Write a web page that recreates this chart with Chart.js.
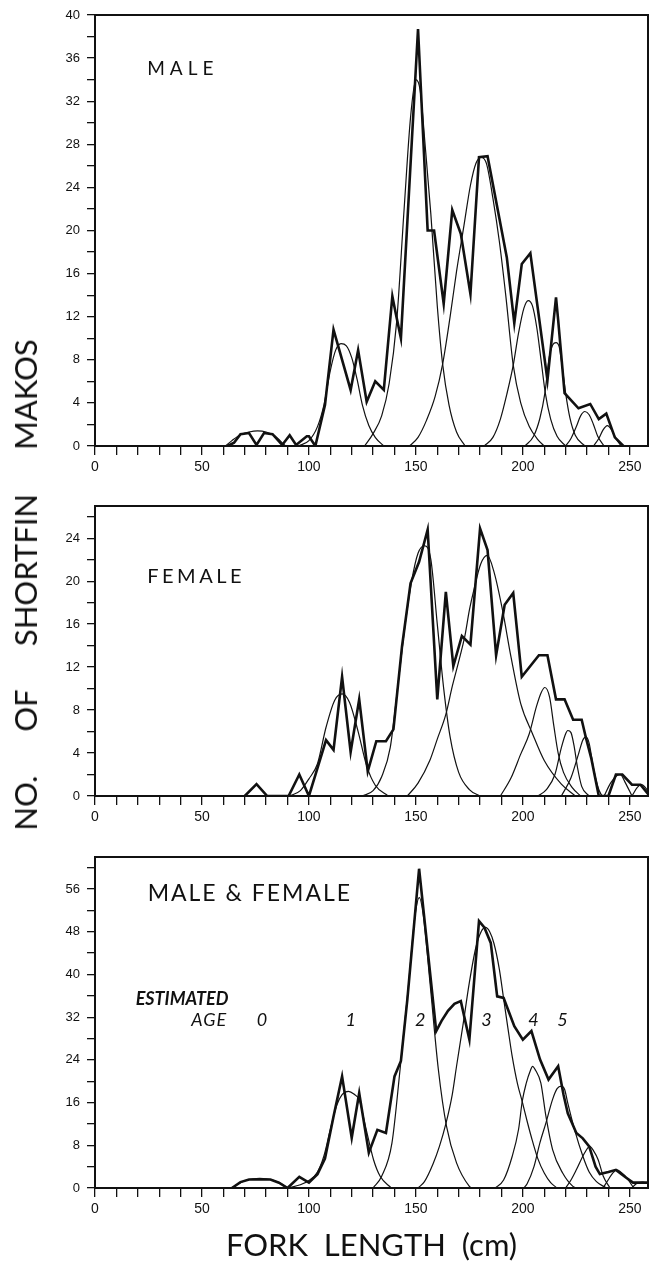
<!DOCTYPE html>
<html>
<head>
<meta charset="utf-8">
<script src="https://cdn.jsdelivr.net/npm/chart.js@4.4.0/dist/chart.umd.min.js"></script>
<style>
  html, body { margin: 0; padding: 0; background: #fff; }
  #page { position: relative; width: 649px; height: 1269px; overflow: hidden; }
  canvas { position: absolute; left: 0; }
  #ytitle {
    position: absolute; left: 25px; top: 585px;
    transform: translate(-50%, -50%) rotate(-90deg);
    font: 31px Lato, sans-serif; word-spacing: 36px; white-space: nowrap; color: #111;
  }
</style>
</head>
<body>
<div id="page">
  <canvas id="male" width="649" height="478" style="top:0"></canvas>
  <canvas id="female" width="649" height="352" style="top:478px"></canvas>
  <canvas id="both" width="649" height="439" style="top:830px"></canvas>
  <div id="ytitle">NO. OF SHORTFIN MAKOS</div>
</div>
<script>
// tick labels
const xTickLabels = [0, 50, 100, 150, 200, 250]
const maleYLabels = [0, 4, 8, 12, 16, 20, 24, 28, 32, 36, 40]
const femaleYLabels = [0, 4, 8, 12, 16, 20, 24]
const bothYLabels = [0, 8, 16, 24, 32, 40, 48, 56]
const panelNames = ["MALE", "FEMALE", "MALE & FEMALE"]
const ageLabels = ["0", "1", "2", "3", "4", "5"]
const ageLabelX = [78, 119.5, 152, 183, 205, 218.5]

// MALE: observed frequencies [fork length cm, count]
const maleObserved = [[62,0],[65,0.3],[68,1.1],[72,1.2],[75.5,0.1],[79,1.2],[83,1.1],[87.5,0.1],[91,1.0],[94,0.1],[99,0.9],[100,0.9],[103,0],[107.5,3.8],[111.5,10.8],[119.5,5.2],[123,8.9],[127,4.1],[131,6.0],[135,5.2],[139,13.9],[140.5,12.4],[143,10],[151,38.7],[155.5,20],[158.5,20],[163,13.2],[167,21.9],[171,19.7],[175.5,14.1],[179.5,26.8],[183.5,26.9],[192.5,17.5],[196,11.4],[199.5,16.9],[203.5,17.9],[211.5,6.1],[215.5,13.8],[216.5,11.7],[219.5,4.9],[226,3.5],[231.5,3.9],[235.5,2.5],[239,3.0],[243,0.8],[247,0]]
// MALE: fitted age groups
const maleAge0 = [[61,0],[64,0.5],[68,1.05],[72,1.3],[76,1.4],[80,1.3],[84,0.95],[88,0.2],[89,0]]
const maleAge1 = [[95,0],[100,0.5],[104,1.8],[107,3.8],[110,7.0],[112.5,8.9],[115,9.5],[117.5,9.3],[120,8.2],[122.5,6.2],[125,3.8],[128,1.9],[131,0.8],[135,0]]
const maleAge2 = [[126,0],[130,1.15],[134,2.8],[137.5,5.8],[141,11.5],[144.5,22],[147.5,30.5],[150,34],[152,33],[154.5,27.5],[157,21.5],[160,13],[162.5,7.6],[165.5,3.8],[169,1.3],[173,0]]
const maleAge3 = [[147,0],[151,0.8],[155,2.4],[159,4.6],[162.5,7.6],[166,12],[169,16.2],[172.5,20.5],[175.5,24.2],[178,26.2],[180.5,26.8],[183,26.2],[186,23],[189,19],[192,14],[195.5,7.5],[199,4],[203,1.8],[207,0.6],[210,0]]
const maleAge4 = [[182,0],[186,0.8],[189.5,2.5],[192.5,4.8],[195.5,7.5],[198,10.5],[200.5,12.8],[202.5,13.5],[204.5,13],[206.5,11],[208.5,8],[210.5,4.9],[213,2.5],[216,0.9],[220,0]]
const maleAge5 = [[201,0],[205,0.9],[208,2.6],[210.3,4.9],[212.3,8.2],[214,9.4],[215.5,9.6],[217,9.2],[218.5,7.2],[220,4.9],[222,2.6],[224.5,1.0],[229,0]]
const maleAge6 = [[220,0],[222.5,0.7],[225,1.8],[227,2.8],[229,3.2],[231,2.9],[233,2],[235,0.9],[238,0]]
const maleAge7 = [[233,0],[235.5,0.7],[237.5,1.5],[239.5,1.9],[241.5,1.5],[243.5,0.7],[246,0]]

// FEMALE
const femaleObserved = [[70,0],[75.5,1.1],[80.5,0],[90.5,0],[95.5,2.0],[100,0],[104,2.6],[108,5.2],[111.5,4.3],[115.5,11.1],[119.5,4.1],[123.5,9.0],[127.5,2.3],[131.5,5.1],[136,5.1],[139.5,6.2],[143.5,13.9],[147.5,19.8],[151.5,21.8],[155.5,24.8],[160,9.0],[164,19],[167.5,12.1],[171.5,14.9],[175.5,14.1],[180,24.9],[183.5,22.9],[187.5,13.1],[191.5,17.8],[195.5,18.9],[199.5,11.1],[207.5,13.1],[211.5,13.1],[215.5,9.0],[219.5,9.0],[223.5,7.1],[227.5,7.1],[229.5,5.4],[232,3.5],[235.5,0],[240,0],[243.5,2.0],[246.5,2.0],[251,1.05],[255,1.05],[258.5,0.2]]
const femaleAge1 = [[91,0],[96,0.5],[100,1.6],[104,3.0],[108,6.4],[112,8.9],[115.5,9.5],[119,8.7],[123,6.0],[127,2.8],[131,1.0],[137,0]]
const femaleAge2 = [[125,0],[130,0.5],[134,1.8],[138,4.5],[142,11],[145,16],[148,20],[151,22.6],[154,23.3],[157,22],[160,16],[163,10],[166,5.5],[170,2.2],[175,0.6],[180,0]]
const femaleAge3 = [[146,0],[151,1.2],[156.5,3.3],[160,5.3],[164,7.6],[167,10.2],[170.5,12.9],[173,15],[175,17.3],[177,19.1],[180.3,21.6],[183.4,22.4],[186.6,20.8],[190.5,17.3],[194.5,12.9],[199,8.6],[204.5,5.8],[210,3.3],[218,1.1],[224.5,0]]
const femaleAge4 = [[189.5,0],[194.5,1.7],[199,3.9],[203,5.8],[206.3,8.3],[208.5,9.6],[210.3,10.1],[212.5,9.2],[214.5,6.5],[216.5,4.0],[219,2.2],[223,0.8],[227,0]]
const femaleAge5 = [[207,0],[211,0.6],[215,2.0],[218,4.5],[220,5.8],[221,6.1],[222.5,5.9],[224,4.6],[225.5,2.7],[227.5,0.9],[231,0]]
const femaleAge6 = [[218,0],[222.5,1.7],[226,3.9],[228,5.2],[229.5,5.5],[231,4.9],[233,2.6],[235.5,0.6],[237,0]]
const femaleAge7 = [[238,0],[241,1.2],[244,1.9],[245.5,2.0],[248,1.2],[251,0]]
const femaleAge8 = [[251,0],[253.5,0.8],[255.5,1.05],[258,0.6],[260,0]]

// MALE & FEMALE
const bothObserved = [[64,0],[68,1.1],[72,1.6],[82,1.6],[86,1.0],[90,0],[95.5,2.1],[100,1.0],[104,2.6],[107.5,5.5],[111.5,13.4],[115.5,20.9],[120,9.4],[123.5,17.8],[128,6.6],[132,10.9],[136,10.3],[140,20.9],[143,23.8],[146,35.3],[151.5,59.8],[159.5,29.4],[162,31.3],[165,33.2],[168,34.5],[171,35],[175,27.8],[179.5,50],[182,48.8],[185,45.9],[188,35.9],[191,35.6],[196,30.3],[200,27.8],[204,29.4],[208,24.1],[212,20.3],[216.5,22.8],[219,17.5],[221,14],[225,10.3],[228,9.3],[231,7.8],[234,4.0],[236,2.6],[240,3.0],[243.5,3.4],[248,2.0],[251.5,1.0],[260,1.0]]
const bothAge0 = [[64,0],[67,0.8],[71,1.5],[77,1.8],[83,1.5],[87,0.8],[90,0]]
const bothAge1 = [[90,0],[96,0.6],[100,1.4],[104,3.0],[107,6],[110,11],[113,15.5],[115.5,17.5],[118.5,18.1],[121,17.6],[123.5,16.5],[126.4,11.6],[130.2,5.3],[133.3,2.2],[138.5,0]]
const bothAge2 = [[130,0],[134,2.2],[138.8,8.4],[142.6,22.2],[146.5,37.8],[149.6,51],[151.6,54.4],[153.5,51],[156.6,38.4],[160.5,22.2],[164.3,11.6],[169,4.7],[175,0.3],[176,0]]
const bothAge3 = [[151,0],[154,1.2],[158,4.5],[161,7.8],[164,12],[167,17.5],[169,22.8],[172,30.5],[175,38.5],[178,45],[180.5,48],[182.5,48.8],[184.5,48],[186.5,45.8],[189,41],[191,35.5],[193,30],[195,24.7],[197.5,19.5],[199.7,16.2],[202,12.5],[204,9.5],[207,5.5],[210,2.8],[213,1],[216,0]]
const bothAge4 = [[187,0],[191,1.5],[195,5.9],[198,11],[199.7,16.2],[201.5,19.5],[203.7,22.2],[204.5,22.8],[206,22],[208.4,19.7],[210.8,13.4],[213.9,7.2],[218.6,2.8],[223.4,0.3],[225,0]]
const bothAge5 = [[200.5,0],[202,0.8],[205.2,4],[208,8.5],[210.8,12.2],[213.9,16.6],[216,18.6],[218,19.1],[219.5,18.5],[221,15.9],[224.2,10.9],[228.1,5.9],[231,3],[234.4,1.2],[239,0]]
const bothAge6 = [[220,0],[222.5,1.5],[225,3.4],[228.9,6.6],[231.3,7.8],[233,7],[235.2,5.3],[237.6,2.2],[240.7,0]]
const bothAge7 = [[237.5,0],[240,1.6],[242,2.8],[244,3.4],[246,2.9],[248.6,1.9],[251.8,0]]
const bothAge8 = [[251,0],[253,0.8],[256,1.1],[258.5,0.8],[261,0]]

const ink = "#111"
const toPts = (arr) => arr.map(([x, y]) => ({ x, y }))

// box round the plot area
const framePlugin = {
  id: "frame",
  afterDatasetsDraw(chart) {
    const { ctx, chartArea: a } = chart
    ctx.save()
    ctx.strokeStyle = ink
    ctx.lineWidth = 2
    ctx.strokeRect(a.left, a.top, a.right - a.left, a.bottom - a.top)
    ctx.restore()
  }
}

// text placed in data coordinates
const notesPlugin = {
  id: "notes",
  afterDatasetsDraw(chart, args, opts) {
    const { ctx, scales } = chart
    ;(opts.items || []).forEach((it) => {
      ctx.save()
      ctx.font = it.font
      ctx.letterSpacing = it.spacing || "0px"
      ctx.fillStyle = ink
      ctx.textAlign = it.align || "left"
      ctx.textBaseline = "middle"
      ctx.fillText(it.text, scales.x.getPixelForValue(it.x), scales.y.getPixelForValue(it.y))
      ctx.restore()
    })
  }
}

function makePanel(id, o) {
  const datasets = o.components.map((c) => ({
    data: toPts(c),
    borderColor: ink,
    borderWidth: 1.2,
    pointRadius: 0,
    cubicInterpolationMode: "monotone"
  }))
  datasets.push({
    data: toPts(o.observed),
    borderColor: ink,
    borderWidth: 2.6,
    pointRadius: 0,
    tension: 0
  })

  return new Chart(document.getElementById(id), {
    type: "line",
    data: { datasets },
    plugins: [framePlugin, notesPlugin],
    options: {
      responsive: false,
      animation: false,
      events: [],
      layout: { padding: { top: o.padTop, right: 1, left: 0, bottom: 0 } },
      plugins: {
        legend: { display: false },
        tooltip: { enabled: false },
        notes: { items: o.notes }
      },
      scales: {
        x: {
          type: "linear",
          min: 0,
          max: 258.5,
          border: { display: false },
          grid: { drawOnChartArea: false, tickLength: 9, color: ink, lineWidth: 1.3 },
          ticks: {
            stepSize: 10,
            includeBounds: false,
            autoSkip: false,
            maxRotation: 0,
            padding: 4,
            color: ink,
            font: { family: "Liberation Sans", size: 14 },
            callback: (v) => (xTickLabels.includes(v) ? String(v) : "")
          },
          title: o.xTitle
            ? {
                display: true,
                text: o.xTitle,
                color: ink,
                font: { family: "Lato", size: 31 },
                padding: { top: 0, bottom: 4 }
              }
            : { display: false },
          afterFit: (s) => { s.height = o.xHeight }
        },
        y: {
          min: 0,
          max: o.yMax,
          border: { display: false },
          grid: { drawOnChartArea: false, tickLength: 8, color: ink, lineWidth: 1.3 },
          ticks: {
            stepSize: o.yStep,
            includeBounds: false,
            autoSkip: false,
            padding: 7,
            color: ink,
            font: { family: "Liberation Sans", size: 13 },
            callback: (v) => (o.yLabels.includes(v) ? String(v) : "")
          },
          afterFit: (s) => { s.width = 95 }
        }
      }
    }
  })
}

makePanel("male", {
  observed: maleObserved,
  components: [maleAge0, maleAge1, maleAge2, maleAge3, maleAge4, maleAge5, maleAge6, maleAge7],
  yMax: 40, yStep: 2, yLabels: maleYLabels,
  padTop: 15, xHeight: 32,
  notes: [{ text: panelNames[0], x: 24.4, y: 35, font: "19px Lato", spacing: "5px" }]
})

makePanel("female", {
  observed: femaleObserved,
  components: [femaleAge1, femaleAge2, femaleAge3, femaleAge4, femaleAge5, femaleAge6, femaleAge7, femaleAge8],
  yMax: 27, yStep: 2, yLabels: femaleYLabels,
  padTop: 28, xHeight: 34,
  notes: [{ text: panelNames[1], x: 24.4, y: 20.4, font: "20px Lato", spacing: "3.5px" }]
})

const bothNotes = [
  { text: panelNames[2], x: 24.6, y: 55.2, font: "23px Lato", spacing: "2px" },
  { text: "ESTIMATED", x: 19, y: 35.3, font: "italic bold 18px Lato" },
  { text: "AGE", x: 45, y: 31.5, font: "italic 18px Lato", spacing: "1px" }
]
ageLabels.forEach((t, i) => {
  bothNotes.push({ text: t, x: ageLabelX[i], y: 31.5, font: "italic 18px Lato", align: "center" })
})

makePanel("both", {
  observed: bothObserved,
  components: [bothAge0, bothAge1, bothAge2, bothAge3, bothAge4, bothAge5, bothAge6, bothAge7, bothAge8],
  yMax: 62, yStep: 4, yLabels: bothYLabels,
  padTop: 27, xHeight: 81,
  xTitle: "FORK  LENGTH  (cm)",
  notes: bothNotes
})
</script>
</body>
</html>
